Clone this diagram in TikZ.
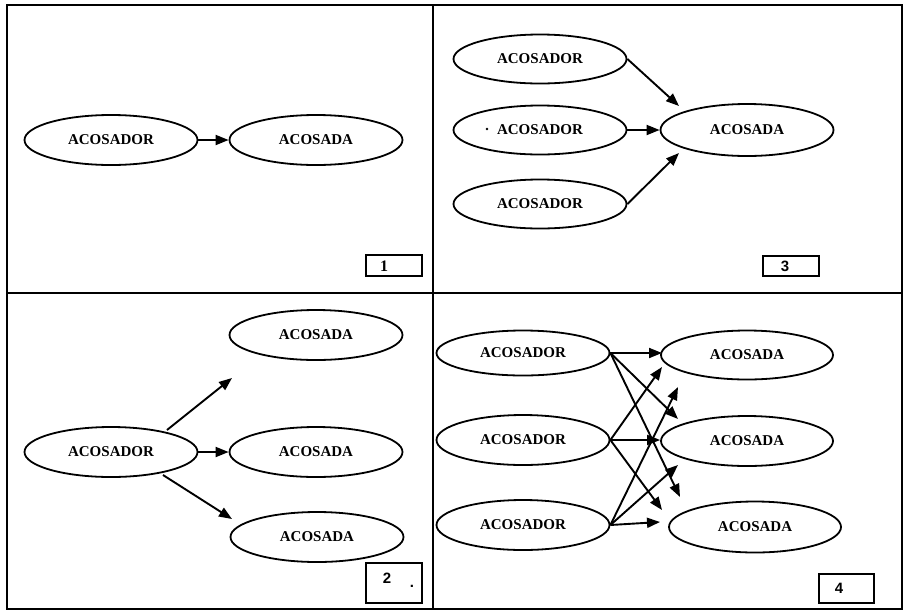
\documentclass[tikz,border=0pt]{standalone}
\usepackage{fontspec}
\setmainfont{Liberation Serif}
\newfontfamily\numfont{Liberation Sans}
\usetikzlibrary{shapes.geometric,arrows.meta}
\tikzset{
  ell/.style={draw, ellipse, line width=1.8pt, minimum width=173pt, minimum height=50pt, inner sep=0pt,
    font=\fontsize{15}{15}\selectfont\bfseries},
  arr/.style={-{Triangle[length=13pt,width=10pt]}, line width=1.9pt},
  numbox/.style={draw, line width=1.8pt, inner sep=0pt, minimum width=56pt},
  numtxt/.style={inner sep=0pt, font=\numfont\fontsize{15}{15}\selectfont\bfseries},
  framel/.style={line width=2pt}
}
\begin{document}
\begin{tikzpicture}[x=1pt,y=-1pt]
\useasboundingbox (0,0) rectangle (907,611);
% frame
\draw[framel] (7,5) rectangle (902,609);
\draw[framel] (433,5) -- (433,609);
\draw[framel] (7,293) -- (902,293);

% panel 1
\node[ell] (p1a) at (111,140) {ACOSADOR};
\node[ell] (p1b) at (316,140) {ACOSADA};
\draw[arr] (p1a.east) -- (p1b.west);
\node[numbox, minimum height=21pt] (b1) at (394,265.5) {};
\node[numtxt, font=\fontsize{16}{16}\selectfont\bfseries] (n1) at (384,266) {1};

% panel 3
\node[ell, minimum height=49pt] (p3a) at (540,59) {ACOSADOR};
\node[ell, minimum height=49pt] (p3b) at (540,130) {ACOSADOR};
\node[ell, minimum height=49pt] (p3c) at (540,204) {ACOSADOR};
\node[ell, minimum height=52pt] (p3d) at (747,130) {ACOSADA};
\coordinate (t3a) at (679,106);
\coordinate (t3c) at (679,153);
\draw[arr] (p3a.east) -- (t3a);
\draw[arr] (p3b.east) -- (p3d.west);
\draw[arr] (p3c.east) -- (t3c);
\fill (487,129) circle (1.4pt);
\node[numbox, minimum height=20pt] (b3) at (791,266) {};
\node[numtxt] (n3) at (785,266) {3};

% panel 2
\node[ell] (p2a) at (111,452) {ACOSADOR};
\node[ell] (p2b) at (316,335) {ACOSADA};
\node[ell] (p2c) at (316,452) {ACOSADA};
\node[ell] (p2d) at (317,537) {ACOSADA};
\coordinate (s2a) at (167,430);
\coordinate (s2c) at (163,475);
\coordinate (t2a) at (232,378);
\coordinate (t2c) at (232,519);
\draw[arr] (s2a) -- (t2a);
\draw[arr] (p2a.east) -- (p2c.west);
\draw[arr] (s2c) -- (t2c);
\node[numbox, minimum height=40pt] (b2) at (394,583) {};
\node[numtxt] (n2) at (387,578) {2};
\node[numtxt] (d2) at (412,586) {.};

% panel 4
\node[ell, minimum height=45pt] (p4a) at (523,353) {ACOSADOR};
\node[ell, minimum height=50pt] (p4b) at (523,440) {ACOSADOR};
\node[ell, minimum height=50pt] (p4c) at (523,525) {ACOSADOR};
\node[ell, minimum width=172pt, minimum height=49pt] (p4d) at (747,355) {ACOSADA};
\node[ell, minimum width=172pt, minimum height=50pt] (p4e) at (747,441) {ACOSADA};
\node[ell, minimum width=172pt, minimum height=51pt] (p4f) at (755,527) {ACOSADA};
\coordinate (ta1) at (662,353);
\coordinate (ta2) at (678,419);
\coordinate (ta3) at (680,497);
\coordinate (tb1) at (662,367);
\coordinate (tb3) at (662,510);
\coordinate (tc1) at (678,387);
\coordinate (tc2) at (678,465);
\coordinate (tc3) at (660,522);
\draw[arr] (p4a.east) -- (ta1);
\draw[arr] (p4a.east) -- (ta2);
\draw[arr] (p4a.east) -- (ta3);
\draw[arr] (p4b.east) -- (tb1);
\draw[arr] (p4b.east) -- (p4b.east -| p4e.west);
\draw[arr] (p4b.east) -- (tb3);
\draw[arr] (p4c.east) -- (tc3);
\draw[arr] (p4c.east) -- (tc1);
\draw[arr] (p4c.east) -- (tc2);
\node[numbox, minimum width=55pt, minimum height=29pt] (b4) at (846.5,588.5) {};
\node[numtxt] (n4) at (839,588) {4};
\end{tikzpicture}
\end{document}
